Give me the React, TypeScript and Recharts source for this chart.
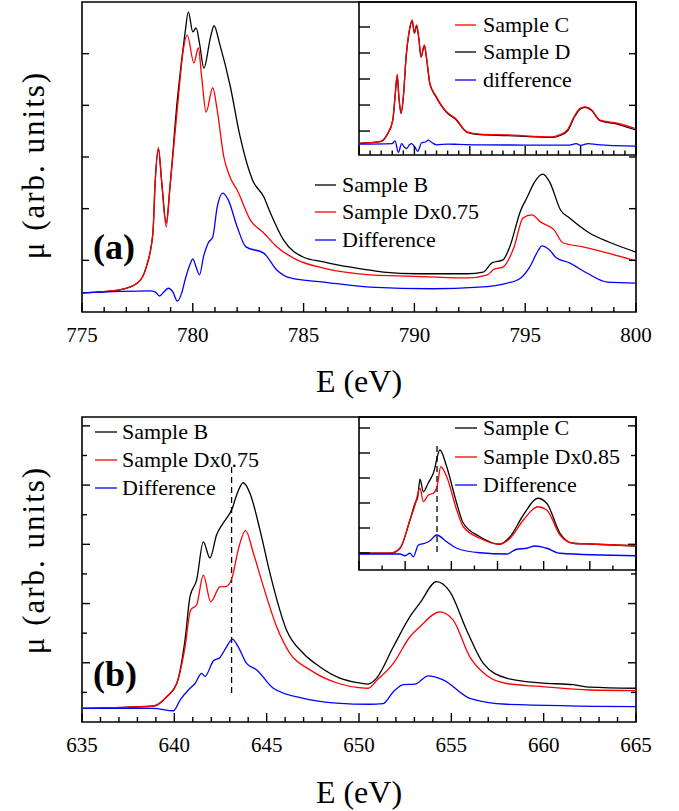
import React from 'react';
import { LineChart, Line, XAxis, YAxis, ReferenceArea, ReferenceLine, Legend } from 'recharts';

const SERIF = '"Liberation Serif", serif';
const BLACK = '#000000';
const RED = '#ff0000';
const BLUE = '#0000ff';

// ---------- Panel (a): main ----------
const aE_B = [775.0, 776.7, 777.5, 777.9, 778.2, 778.3, 778.45, 778.6, 778.8, 778.97, 779.3, 779.5, 779.65, 779.8, 780.0, 780.15, 780.3, 780.5, 780.8, 780.96, 781.2, 781.7, 782.1, 782.7, 783.2, 783.5, 784.1, 785.0, 785.9, 786.3, 788.0, 788.6, 790.1, 792.4, 793.1, 793.5, 794.0, 794.3, 794.8, 795.1, 795.4, 795.8, 796.1, 796.6, 797.0, 797.9, 798.8, 800.0];
const aMu_B = [0.37, 0.43, 0.56, 0.87, 1.53, 2.5, 3.14, 2.5, 1.72, 2.42, 4.1, 4.88, 5.4, 5.81, 5.42, 5.5, 5.21, 4.72, 5.32, 5.54, 5.21, 4.35, 3.46, 2.55, 2.23, 1.92, 1.39, 1.06, 0.97, 0.93, 0.81, 0.77, 0.74, 0.74, 0.77, 0.95, 1.01, 1.26, 1.97, 2.23, 2.5, 2.67, 2.52, 1.97, 1.82, 1.53, 1.35, 1.16];

const aE_D = [775.0, 776.7, 777.5, 777.9, 778.2, 778.3, 778.45, 778.6, 778.8, 778.97, 779.35, 779.55, 779.75, 780.05, 780.25, 780.4, 780.6, 780.9, 781.1, 781.4, 781.7, 782.0, 782.6, 783.2, 783.8, 784.7, 785.9, 788.0, 789.35, 792.4, 793.3, 793.6, 794.0, 794.5, 794.9, 795.3, 795.7, 796.3, 796.7, 797.6, 800.0];
const aMu_D = [0.37, 0.43, 0.56, 0.87, 1.53, 2.5, 3.18, 2.5, 1.65, 2.42, 4.16, 5.01, 5.36, 4.82, 5.11, 4.55, 3.87, 4.34, 3.91, 3.0, 2.59, 2.36, 1.78, 1.53, 1.26, 1.01, 0.85, 0.72, 0.7, 0.66, 0.72, 0.83, 0.87, 1.26, 1.82, 1.88, 1.74, 1.59, 1.34, 1.26, 0.99];

const aE_Diff = [775.0, 778.07, 778.3, 778.5, 778.7, 778.9, 779.1, 779.3, 779.5, 779.65, 779.9, 780.0, 780.15, 780.3, 780.5, 780.7, 780.9, 781.1, 781.35, 781.6, 782.0, 782.4, 783.2, 783.8, 784.4, 785.9, 788.0, 790.8, 792.9, 794.2, 794.8, 795.2, 795.6, 795.75, 796.1, 796.4, 797.0, 797.8, 798.7, 800.0];
const aMu_Diff = [0.37, 0.41, 0.39, 0.31, 0.39, 0.46, 0.39, 0.21, 0.37, 0.62, 0.95, 1.03, 0.87, 0.72, 1.1, 1.34, 1.45, 2.03, 2.3, 2.17, 1.65, 1.26, 1.14, 0.81, 0.66, 0.58, 0.48, 0.45, 0.48, 0.56, 0.66, 0.87, 1.2, 1.28, 1.2, 1.05, 0.95, 0.75, 0.58, 0.56];

// ---------- Panel (a): inset ----------
const iaE = [775.0, 776.9, 777.6, 778.05, 778.25, 778.45, 778.6, 778.8, 779.0, 779.25, 779.5, 779.8, 780.0, 780.2, 780.4, 780.6, 780.9, 781.1, 781.4, 781.9, 782.9, 783.7, 784.75, 785.9, 788.4, 792.5, 793.1, 793.8, 794.5, 794.95, 795.4, 796.0, 796.75, 798.3, 799.9];
const iaMu_C = [0.53, 0.59, 0.91, 1.42, 2.32, 3.19, 2.32, 1.68, 2.32, 3.86, 4.76, 5.27, 4.78, 5.08, 4.57, 3.86, 4.31, 3.8, 2.83, 2.38, 1.74, 1.49, 0.97, 0.88, 0.85, 0.78, 0.85, 1.04, 1.62, 1.87, 1.93, 1.81, 1.42, 1.3, 1.1];
const iaMu_D = [0.53, 0.59, 0.91, 1.42, 2.3, 3.12, 2.3, 1.68, 2.3, 3.84, 4.74, 5.22, 4.76, 5.05, 4.55, 3.84, 4.28, 3.78, 2.8, 2.35, 1.72, 1.46, 0.95, 0.86, 0.83, 0.76, 0.82, 1.0, 1.58, 1.84, 1.91, 1.79, 1.4, 1.27, 1.05];
const iaE_Diff = [775.0, 778.0, 778.25, 778.55, 778.85, 779.1, 779.3, 779.55, 779.75, 780.05, 780.3, 780.65, 781.0, 781.25, 781.6, 782.0, 783.0, 784.0, 786.0, 790.0, 794.0, 794.6, 795.0, 795.7, 796.5, 800.0];
const iaMu_Diff = [0.5, 0.52, 0.62, 0.18, 0.52, 0.38, 0.33, 0.47, 0.52, 0.38, 0.22, 0.55, 0.58, 0.65, 0.55, 0.47, 0.5, 0.49, 0.47, 0.46, 0.46, 0.52, 0.45, 0.52, 0.48, 0.42];

// ---------- Panel (b): main ----------
const bE_B = [635.0, 638.9, 639.6, 640.13, 640.58, 640.85, 641.21, 641.57, 641.93, 642.29, 642.65, 643.14, 643.37, 643.73, 644.1, 644.64, 645.18, 646.08, 646.98, 647.89, 648.9, 650.0, 650.5, 650.95, 651.86, 652.76, 653.3, 654.2, 654.92, 655.83, 656.73, 657.99, 659.8, 661.6, 662.5, 665.0];
const bMu_B = [0.23, 0.27, 0.43, 0.65, 1.39, 2.12, 2.4, 3.04, 2.77, 3.16, 3.36, 3.61, 3.83, 4.04, 3.86, 3.24, 2.51, 1.55, 1.16, 0.93, 0.75, 0.66, 0.64, 0.74, 1.27, 1.78, 2.01, 2.37, 2.2, 1.55, 0.99, 0.74, 0.66, 0.63, 0.59, 0.57];

const bE_D = [635.0, 638.9, 639.6, 640.13, 640.58, 640.88, 641.21, 641.57, 641.97, 642.47, 642.83, 643.14, 643.46, 643.86, 644.28, 644.82, 645.54, 646.26, 647.35, 648.9, 650.0, 650.5, 650.95, 651.86, 652.76, 653.3, 654.38, 655.1, 656.0, 656.9, 657.99, 659.8, 662.5, 665.0];
const bMu_D = [0.23, 0.27, 0.43, 0.65, 1.27, 1.89, 1.98, 2.48, 2.03, 2.28, 2.29, 2.45, 2.91, 3.23, 2.85, 2.29, 1.61, 1.16, 0.88, 0.65, 0.58, 0.57, 0.7, 0.99, 1.44, 1.61, 1.86, 1.72, 1.1, 0.79, 0.65, 0.6, 0.54, 0.53];

const bE_Diff = [635.0, 638.86, 639.95, 640.31, 640.76, 641.12, 641.48, 641.66, 642.11, 642.47, 642.83, 643.14, 643.46, 643.91, 644.46, 645.36, 646.98, 648.79, 650.59, 651.3, 651.86, 652.4, 653.03, 653.75, 654.56, 656.0, 657.99, 665.0];
const bMu_Diff = [0.23, 0.23, 0.19, 0.37, 0.54, 0.65, 0.82, 0.77, 1.03, 1.09, 1.27, 1.4, 1.27, 0.99, 0.88, 0.57, 0.4, 0.32, 0.3, 0.31, 0.51, 0.63, 0.64, 0.78, 0.71, 0.4, 0.3, 0.26];

// ---------- Panel (b): inset ----------
const ibE_C = [635.0, 638.4, 639.44, 640.52, 641.07, 641.36, 641.61, 641.97, 642.51, 643.05, 643.77, 644.5, 645.58, 646.3, 648.1, 650.2, 651.36, 652.8, 654.36, 655.33, 656.77, 658.2, 660.0, 665.0];
const ibMu_C = [0.99, 0.99, 1.19, 2.32, 2.99, 3.25, 3.95, 3.45, 3.81, 4.19, 5.12, 4.45, 2.99, 2.19, 1.65, 1.35, 1.65, 2.52, 3.19, 2.99, 1.79, 1.39, 1.36, 1.28];
const ibE_D = [635.0, 638.4, 639.44, 640.52, 641.07, 641.61, 641.97, 642.51, 643.05, 643.49, 643.85, 644.5, 645.58, 646.3, 648.1, 650.2, 651.36, 652.8, 654.36, 655.33, 656.77, 658.2, 660.0, 665.0];
const ibMu_D = [0.99, 0.99, 1.19, 2.32, 2.92, 3.59, 3.05, 3.32, 3.39, 3.72, 4.45, 4.05, 2.72, 2.05, 1.59, 1.35, 1.59, 2.32, 2.85, 2.72, 1.72, 1.39, 1.36, 1.29];
const ibE_Diff = [635.0, 639.44, 639.98, 640.52, 640.88, 641.43, 642.15, 642.69, 643.41, 644.5, 645.58, 648.1, 651.0, 652.08, 653.17, 654.07, 655.33, 656.77, 665.0];
const ibMu_Diff = [0.96, 0.96, 0.89, 0.99, 0.85, 1.32, 1.39, 1.49, 1.72, 1.45, 1.19, 1.01, 0.96, 1.15, 1.19, 1.28, 1.19, 0.99, 0.89];

// Dashed marker positions (energy, lower/upper μ)
const bDashE = 643.1;
const bDashMu = [0.49, 4.31];
const ibDashE = 643.45;
const ibDashMu = [1.04, 5.44];

// Axis tick labels (majors) — minor ticks fill in between
const aMajorTicks = [775, 780, 785, 790, 795, 800];
const bMajorTicks = [635, 640, 645, 650, 655, 660, 665];

const pairs = (xs: number[], ys: number[]) => xs.map((E, i) => ({ E, mu: ys[i] }));
const range = (a: number, b: number, step: number) => {
  const out: number[] = [];
  for (let v = a; v <= b + 1e-9; v += step) out.push(Math.round(v * 1000) / 1000);
  return out;
};
const withMinors = (majors: number[], step: number) => range(majors[0], majors[majors.length - 1], step);

const makeXTick = (majorEvery: number, majorLen: number, minorLen: number, labels: boolean) => (props: any) => {
  const { x, y, payload } = props;
  const v = payload.value as number;
  const r = v / majorEvery;
  const major = Math.abs(r - Math.round(r)) < 1e-6;
  return (
    <g>
      <line x1={x} x2={x} y1={y} y2={y - (major ? majorLen : minorLen)} stroke="#000" strokeWidth={1.4} />
      {major && labels ? (
        <text x={x} y={y + 30} textAnchor="middle" fontFamily={SERIF} fontSize={21} fill="#000">
          {v}
        </text>
      ) : null}
    </g>
  );
};

const makeYTick = (majorLen: number, minorLen: number, mirror: number | null) => (props: any) => {
  const { x, y, payload } = props;
  const v = payload.value as number;
  const major = Math.abs(v - Math.round(v)) < 1e-6;
  const len = major ? majorLen : minorLen;
  return (
    <g>
      <line x1={x} x2={x + len} y1={y} y2={y} stroke="#000" strokeWidth={1.4} />
      {mirror !== null ? <line x1={x + mirror} x2={x + mirror - len} y1={y} y2={y} stroke="#000" strokeWidth={1.4} /> : null}
    </g>
  );
};

const makeLegend = (order: string[], lineW: number, gap: number, rowH: number) => (props: any) => {
  const items: any[] = props.payload || [];
  const sorted = order.map((n) => items.find((it) => it.value === n)).filter(Boolean);
  return (
    <div style={{ fontFamily: SERIF, fontSize: 22, color: '#000', whiteSpace: 'nowrap' }}>
      {sorted.map((it: any) => (
        <div key={it.value} style={{ display: 'flex', alignItems: 'center', height: rowH }}>
          <svg width={lineW} height={4} style={{ display: 'block' }}>
            <line x1={0} x2={lineW} y1={2} y2={2} stroke={it.color} strokeWidth={1.3} />
          </svg>
          <span style={{ marginLeft: gap, lineHeight: 1, fontFamily: SERIF }}>{it.value}</span>
        </div>
      ))}
    </div>
  );
};

const lineProps = { type: 'monotone' as const, dataKey: 'mu', dot: false, isAnimationActive: false, strokeWidth: 1.3, activeDot: false as any };
const axisCommon = { tickSize: 0, tickMargin: 0, tickLine: false, axisLine: false, interval: 0 as const, allowDataOverflow: true };

const yLabelStyle = (cy: number): React.CSSProperties => ({
  position: 'absolute',
  left: 34 - 150,
  top: cy - 20,
  width: 300,
  height: 40,
  lineHeight: '40px',
  textAlign: 'center',
  transform: 'rotate(-90deg)',
  fontFamily: SERIF,
  fontSize: 31,
  letterSpacing: 2,
  color: '#000',
  whiteSpace: 'nowrap',
});

const txt = (extra: React.CSSProperties): React.CSSProperties => ({ position: 'absolute', fontFamily: SERIF, color: '#000', whiteSpace: 'nowrap', ...extra });

export default function App() {
  const plotW = 554;
  return (
    <div style={{ position: 'absolute', left: 0, top: 0, width: 679, height: 811, background: '#fff', fontFamily: SERIF }}>
      {/* Panel (a) main */}
      <div style={{ position: 'absolute', left: 0, top: 0 }}>
        <LineChart width={679} height={400} margin={{ top: 2, right: 43, bottom: 0, left: 0 }} style={{ fontFamily: SERIF }}>
          <XAxis dataKey="E" type="number" domain={[775, 800]} ticks={withMinors(aMajorTicks, 1)} height={88} tick={makeXTick(5, 9, 5, true)} {...axisCommon} />
          <YAxis type="number" domain={[0, 6]} ticks={[1, 2, 3, 4, 5]} width={82} tick={makeYTick(7, 7, plotW)} {...axisCommon} />
          <ReferenceArea x1={775} x2={800} y1={0} y2={6} fill="none" fillOpacity={0} stroke="#000" strokeWidth={1.6} ifOverflow="visible" />
          <Line {...lineProps} data={pairs(aE_B, aMu_B)} name="Sample B" stroke={BLACK} />
          <Line {...lineProps} data={pairs(aE_D, aMu_D)} name="Sample Dx0.75" stroke={RED} />
          <Line {...lineProps} data={pairs(aE_Diff, aMu_Diff)} name="Difference" stroke={BLUE} />
          <Legend layout="vertical" align="center" verticalAlign="middle" wrapperStyle={{ left: 315, top: 171, width: 'auto', height: 'auto' }} content={makeLegend(['Sample B', 'Sample Dx0.75', 'Difference'], 21, 6, 27.5)} />
        </LineChart>
      </div>

      {/* Panel (a) inset */}
      <div style={{ position: 'absolute', left: 339, top: 0 }}>
        <LineChart width={300} height={170} margin={{ top: 2, right: 3, bottom: 0, left: 0 }} style={{ fontFamily: SERIF }}>
          <XAxis dataKey="E" type="number" domain={[775, 800]} ticks={withMinors(aMajorTicks, 1)} height={15} tick={makeXTick(5, 9, 4.5, false)} {...axisCommon} />
          <YAxis type="number" domain={[0.08, 5.96]} ticks={[1, 2, 3, 4, 5]} width={20} tick={makeYTick(11, 11, null)} {...axisCommon} />
          <ReferenceArea x1={775} x2={800} y1={0.08} y2={5.96} fill="none" fillOpacity={0} stroke="#000" strokeWidth={1.6} ifOverflow="visible" />
          <Line {...lineProps} data={pairs(iaE, iaMu_D)} name="Sample D" stroke={BLACK} />
          <Line {...lineProps} data={pairs(iaE, iaMu_C)} name="Sample C" stroke={RED} />
          <Line {...lineProps} data={pairs(iaE_Diff, iaMu_Diff)} name="difference" stroke={BLUE} />
          <Legend layout="vertical" align="center" verticalAlign="middle" wrapperStyle={{ left: 116, top: 11, width: 'auto', height: 'auto' }} content={makeLegend(['Sample C', 'Sample D', 'difference'], 21, 7, 27.5)} />
        </LineChart>
      </div>

      {/* Panel (b) main */}
      <div style={{ position: 'absolute', left: 0, top: 400 }}>
        <LineChart width={679} height={411} margin={{ top: 17, right: 43, bottom: 0, left: 0 }} style={{ fontFamily: SERIF }}>
          <XAxis dataKey="E" type="number" domain={[635, 665]} ticks={withMinors(bMajorTicks, 1)} height={89} tick={makeXTick(5, 9, 5, true)} {...axisCommon} />
          <YAxis type="number" domain={[0, 5.15]} ticks={range(0.5, 5, 0.5)} width={82} tick={makeYTick(8, 5, plotW)} {...axisCommon} />
          <ReferenceArea x1={635} x2={665} y1={0} y2={5.15} fill="none" fillOpacity={0} stroke="#000" strokeWidth={1.6} ifOverflow="visible" />
          <ReferenceLine segment={[{ x: bDashE, y: bDashMu[0] }, { x: bDashE, y: bDashMu[1] }]} stroke="#000" strokeWidth={1.3} strokeDasharray="6 4" ifOverflow="visible" />
          <Line {...lineProps} data={pairs(bE_B, bMu_B)} name="Sample B" stroke={BLACK} />
          <Line {...lineProps} data={pairs(bE_D, bMu_D)} name="Sample Dx0.75" stroke={RED} />
          <Line {...lineProps} data={pairs(bE_Diff, bMu_Diff)} name="Difference" stroke={BLUE} />
          <Legend layout="vertical" align="center" verticalAlign="middle" wrapperStyle={{ left: 95, top: 18, width: 'auto', height: 'auto' }} content={makeLegend(['Sample B', 'Sample Dx0.75', 'Difference'], 22, 5, 28)} />
        </LineChart>
      </div>

      {/* Panel (b) inset */}
      <div style={{ position: 'absolute', left: 339, top: 400 }}>
        <LineChart width={300} height={190} margin={{ top: 17, right: 3, bottom: 0, left: 0 }} style={{ fontFamily: SERIF }}>
          <XAxis dataKey="E" type="number" domain={[635, 665]} ticks={withMinors(bMajorTicks, 2.5)} height={20} tick={makeXTick(5, 9, 4.5, false)} {...axisCommon} />
          <YAxis type="number" domain={[0.32, 6.44]} ticks={[1, 2, 3, 4, 5, 6]} width={20} tick={makeYTick(11, 11, null)} {...axisCommon} />
          <ReferenceArea x1={635} x2={665} y1={0.32} y2={6.44} fill="none" fillOpacity={0} stroke="#000" strokeWidth={1.6} ifOverflow="visible" />
          <ReferenceLine segment={[{ x: ibDashE, y: ibDashMu[0] }, { x: ibDashE, y: ibDashMu[1] }]} stroke="#000" strokeWidth={1.3} strokeDasharray="6 4" ifOverflow="visible" />
          <Line {...lineProps} data={pairs(ibE_C, ibMu_C)} name="Sample C" stroke={BLACK} />
          <Line {...lineProps} data={pairs(ibE_D, ibMu_D)} name="Sample Dx0.85" stroke={RED} />
          <Line {...lineProps} data={pairs(ibE_Diff, ibMu_Diff)} name="Difference" stroke={BLUE} />
          <Legend layout="vertical" align="center" verticalAlign="middle" wrapperStyle={{ left: 116, top: 14, width: 'auto', height: 'auto' }} content={makeLegend(['Sample C', 'Sample Dx0.85', 'Difference'], 22, 6, 28.5)} />
        </LineChart>
      </div>

      {/* Panel letters and axis titles */}
      <div style={txt({ left: 93, top: 229, fontSize: 36, fontWeight: 'bold', lineHeight: '36px' })}>(a)</div>
      <div style={txt({ left: 93, top: 656, fontSize: 36, fontWeight: 'bold', lineHeight: '36px' })}>(b)</div>
      <div style={txt({ left: 82, width: 554, top: 365, textAlign: 'center', fontSize: 32, lineHeight: '32px' })}>E (eV)</div>
      <div style={txt({ left: 82, width: 554, top: 776, textAlign: 'center', fontSize: 32, lineHeight: '32px' })}>E (eV)</div>
      <div style={yLabelStyle(165)}>μ (arb. units)</div>
      <div style={yLabelStyle(560)}>μ (arb. units)</div>
    </div>
  );
}
